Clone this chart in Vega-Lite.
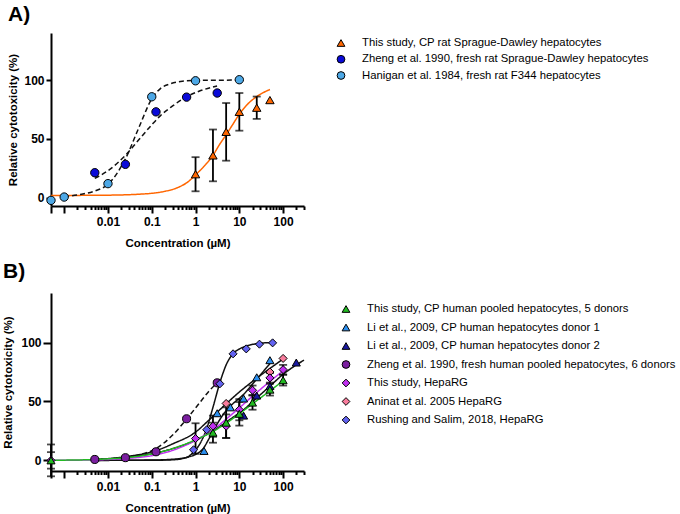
{
  "$schema": "https://vega.github.io/schema/vega-lite/v6.json",
  "padding": {"left": 2, "top": 4, "right": 0, "bottom": 0},
  "background": "white",
  "config": {
    "font": "Liberation Sans",
    "view": {"stroke": null},
    "axis": {"domainColor": "black", "domainWidth": 2, "tickColor": "black", "tickWidth": 2, "labelColor": "black", "labelFont": "Liberation Sans", "labelFontSize": 12, "labelFontWeight": "bold", "titleColor": "black", "titleFont": "Liberation Sans", "titleFontSize": 11.5, "titleFontWeight": "bold", "grid": false},
    "title": {"font": "Liberation Sans", "fontSize": 21, "fontWeight": "bold", "anchor": "start", "frame": "bounds", "color": "black"}
  },
  "datasets": {
    "legA": [
      {"s": "This study, CP rat Sprague-Dawley hepatocytes"},
      {"s": "Zheng et al. 1990, fresh rat Sprague-Dawley hepatocytes"},
      {"s": "Hanigan et al. 1984, fresh rat F344 hepatocytes"}
    ],
    "legB": [
      {"s": "This study, CP human pooled hepatocytes, 5 donors"},
      {"s": "Li et al., 2009, CP human hepatocytes donor 1"},
      {"s": "Li et al., 2009, CP human hepatocytes donor 2"},
      {"s": "Zheng et al. 1990, fresh human pooled hepatocytes, 6 donors"},
      {"s": "This study, HepaRG"},
      {"s": "Aninat et al. 2005 HepaRG"},
      {"s": "Rushing and Salim, 2018, HepaRG"}
    ],
    "ptsA": [
      {"s": "Hanigan et al. 1984, fresh rat F344 hepatocytes", "conc": 0, "y": -2.2},
      {"s": "Hanigan et al. 1984, fresh rat F344 hepatocytes", "conc": 0.001, "y": 0.6},
      {"s": "Hanigan et al. 1984, fresh rat F344 hepatocytes", "conc": 0.01, "y": 12},
      {"s": "Hanigan et al. 1984, fresh rat F344 hepatocytes", "conc": 0.1, "y": 85.8},
      {"s": "Hanigan et al. 1984, fresh rat F344 hepatocytes", "conc": 1, "y": 99.4},
      {"s": "Hanigan et al. 1984, fresh rat F344 hepatocytes", "conc": 10, "y": 100.3},
      {"s": "Zheng et al. 1990, fresh rat Sprague-Dawley hepatocytes", "conc": 0.005, "y": 21.3},
      {"s": "Zheng et al. 1990, fresh rat Sprague-Dawley hepatocytes", "conc": 0.025, "y": 28.4},
      {"s": "Zheng et al. 1990, fresh rat Sprague-Dawley hepatocytes", "conc": 0.125, "y": 73},
      {"s": "Zheng et al. 1990, fresh rat Sprague-Dawley hepatocytes", "conc": 0.625, "y": 85.5},
      {"s": "Zheng et al. 1990, fresh rat Sprague-Dawley hepatocytes", "conc": 3.125, "y": 89},
      {"s": "This study, CP rat Sprague-Dawley hepatocytes", "conc": 1, "y": 20, "err": 14.5},
      {"s": "This study, CP rat Sprague-Dawley hepatocytes", "conc": 2.5, "y": 36, "err": 22},
      {"s": "This study, CP rat Sprague-Dawley hepatocytes", "conc": 5, "y": 56, "err": 24.5},
      {"s": "This study, CP rat Sprague-Dawley hepatocytes", "conc": 10, "y": 73, "err": 16},
      {"s": "This study, CP rat Sprague-Dawley hepatocytes", "conc": 25, "y": 76.5, "err": 9.5},
      {"s": "This study, CP rat Sprague-Dawley hepatocytes", "conc": 50, "y": 83}
    ],
    "curvesA": [
      {"s": "This study, CP rat Sprague-Dawley hepatocytes", "conc": 0, "y": 2},
      {"s": "This study, CP rat Sprague-Dawley hepatocytes", "conc": 0.001, "y": 2},
      {"s": "This study, CP rat Sprague-Dawley hepatocytes", "conc": 0.01, "y": 2.2},
      {"s": "This study, CP rat Sprague-Dawley hepatocytes", "conc": 0.05, "y": 3},
      {"s": "This study, CP rat Sprague-Dawley hepatocytes", "conc": 0.1, "y": 3.8},
      {"s": "This study, CP rat Sprague-Dawley hepatocytes", "conc": 0.2, "y": 5.5},
      {"s": "This study, CP rat Sprague-Dawley hepatocytes", "conc": 0.4, "y": 8.8},
      {"s": "This study, CP rat Sprague-Dawley hepatocytes", "conc": 0.7, "y": 14},
      {"s": "This study, CP rat Sprague-Dawley hepatocytes", "conc": 1, "y": 19.5},
      {"s": "This study, CP rat Sprague-Dawley hepatocytes", "conc": 1.5, "y": 26},
      {"s": "This study, CP rat Sprague-Dawley hepatocytes", "conc": 2.5, "y": 36},
      {"s": "This study, CP rat Sprague-Dawley hepatocytes", "conc": 3.5, "y": 45},
      {"s": "This study, CP rat Sprague-Dawley hepatocytes", "conc": 5, "y": 53.5},
      {"s": "This study, CP rat Sprague-Dawley hepatocytes", "conc": 7, "y": 62},
      {"s": "This study, CP rat Sprague-Dawley hepatocytes", "conc": 10, "y": 71},
      {"s": "This study, CP rat Sprague-Dawley hepatocytes", "conc": 15, "y": 79},
      {"s": "This study, CP rat Sprague-Dawley hepatocytes", "conc": 25, "y": 86},
      {"s": "This study, CP rat Sprague-Dawley hepatocytes", "conc": 50, "y": 92},
      {"s": "Zheng et al. 1990, fresh rat Sprague-Dawley hepatocytes", "conc": 0.005, "y": 16.5},
      {"s": "Zheng et al. 1990, fresh rat Sprague-Dawley hepatocytes", "conc": 0.01, "y": 23},
      {"s": "Zheng et al. 1990, fresh rat Sprague-Dawley hepatocytes", "conc": 0.025, "y": 36},
      {"s": "Zheng et al. 1990, fresh rat Sprague-Dawley hepatocytes", "conc": 0.05, "y": 49},
      {"s": "Zheng et al. 1990, fresh rat Sprague-Dawley hepatocytes", "conc": 0.1, "y": 62},
      {"s": "Zheng et al. 1990, fresh rat Sprague-Dawley hepatocytes", "conc": 0.16, "y": 70},
      {"s": "Zheng et al. 1990, fresh rat Sprague-Dawley hepatocytes", "conc": 0.3, "y": 78},
      {"s": "Zheng et al. 1990, fresh rat Sprague-Dawley hepatocytes", "conc": 0.6, "y": 85.5},
      {"s": "Zheng et al. 1990, fresh rat Sprague-Dawley hepatocytes", "conc": 1.2, "y": 90.5},
      {"s": "Zheng et al. 1990, fresh rat Sprague-Dawley hepatocytes", "conc": 3.1, "y": 95},
      {"s": "Hanigan et al. 1984, fresh rat F344 hepatocytes", "conc": 0.001, "y": 0.9},
      {"s": "Hanigan et al. 1984, fresh rat F344 hepatocytes", "conc": 0.0025, "y": 3},
      {"s": "Hanigan et al. 1984, fresh rat F344 hepatocytes", "conc": 0.005, "y": 5.7},
      {"s": "Hanigan et al. 1984, fresh rat F344 hepatocytes", "conc": 0.01, "y": 11.5},
      {"s": "Hanigan et al. 1984, fresh rat F344 hepatocytes", "conc": 0.025, "y": 33},
      {"s": "Hanigan et al. 1984, fresh rat F344 hepatocytes", "conc": 0.05, "y": 59},
      {"s": "Hanigan et al. 1984, fresh rat F344 hepatocytes", "conc": 0.1, "y": 84},
      {"s": "Hanigan et al. 1984, fresh rat F344 hepatocytes", "conc": 0.16, "y": 93},
      {"s": "Hanigan et al. 1984, fresh rat F344 hepatocytes", "conc": 0.25, "y": 96.5},
      {"s": "Hanigan et al. 1984, fresh rat F344 hepatocytes", "conc": 0.5, "y": 99},
      {"s": "Hanigan et al. 1984, fresh rat F344 hepatocytes", "conc": 1, "y": 99.7},
      {"s": "Hanigan et al. 1984, fresh rat F344 hepatocytes", "conc": 10, "y": 100}
    ],
    "ptsB": [
      {"s": "This study, HepaRG", "conc": 0, "y": 0, "err": 7},
      {"s": "This study, CP human pooled hepatocytes, 5 donors", "conc": 0, "y": 0, "err": 13.5},
      {"s": "Zheng et al. 1990, fresh human pooled hepatocytes, 6 donors", "conc": 0.005, "y": 0.8},
      {"s": "Zheng et al. 1990, fresh human pooled hepatocytes, 6 donors", "conc": 0.025, "y": 2.3},
      {"s": "Zheng et al. 1990, fresh human pooled hepatocytes, 6 donors", "conc": 0.125, "y": 7.3},
      {"s": "Zheng et al. 1990, fresh human pooled hepatocytes, 6 donors", "conc": 0.625, "y": 35.3},
      {"s": "Zheng et al. 1990, fresh human pooled hepatocytes, 6 donors", "conc": 3.125, "y": 65.8},
      {"s": "Rushing and Salim, 2018, HepaRG", "conc": 0.9, "y": 9},
      {"s": "Rushing and Salim, 2018, HepaRG", "conc": 1.8, "y": 26},
      {"s": "Rushing and Salim, 2018, HepaRG", "conc": 3.6, "y": 65},
      {"s": "Rushing and Salim, 2018, HepaRG", "conc": 7.2, "y": 90.4},
      {"s": "Rushing and Salim, 2018, HepaRG", "conc": 14.4, "y": 94.6},
      {"s": "Rushing and Salim, 2018, HepaRG", "conc": 28.8, "y": 98.6},
      {"s": "Rushing and Salim, 2018, HepaRG", "conc": 57.6, "y": 99.7},
      {"s": "Li et al., 2009, CP human hepatocytes donor 1", "conc": 1.5625, "y": 8},
      {"s": "Li et al., 2009, CP human hepatocytes donor 1", "conc": 3.125, "y": 40},
      {"s": "Li et al., 2009, CP human hepatocytes donor 1", "conc": 6.25, "y": 45},
      {"s": "Li et al., 2009, CP human hepatocytes donor 1", "conc": 12.5, "y": 52.5},
      {"s": "Li et al., 2009, CP human hepatocytes donor 1", "conc": 25, "y": 70.5},
      {"s": "Li et al., 2009, CP human hepatocytes donor 1", "conc": 50, "y": 85},
      {"s": "Li et al., 2009, CP human hepatocytes donor 2", "conc": 12.5, "y": 38},
      {"s": "Li et al., 2009, CP human hepatocytes donor 2", "conc": 25, "y": 55},
      {"s": "Li et al., 2009, CP human hepatocytes donor 2", "conc": 50, "y": 63},
      {"s": "Li et al., 2009, CP human hepatocytes donor 2", "conc": 200, "y": 83},
      {"s": "Aninat et al. 2005 HepaRG", "conc": 5, "y": 48.3},
      {"s": "Aninat et al. 2005 HepaRG", "conc": 50, "y": 75},
      {"s": "Aninat et al. 2005 HepaRG", "conc": 100, "y": 86.5},
      {"s": "This study, HepaRG", "conc": 1, "y": 18.5, "err": 13},
      {"s": "This study, HepaRG", "conc": 2.5, "y": 29, "err": 9},
      {"s": "This study, HepaRG", "conc": 5, "y": 29, "err": 10},
      {"s": "This study, HepaRG", "conc": 10, "y": 43, "err": 9},
      {"s": "This study, HepaRG", "conc": 20, "y": 59.5, "err": 4},
      {"s": "This study, HepaRG", "conc": 50, "y": 70, "err": 4},
      {"s": "This study, HepaRG", "conc": 100, "y": 77, "err": 4},
      {"s": "This study, CP human pooled hepatocytes, 5 donors", "conc": 2.5, "y": 23.5, "err": 8.5},
      {"s": "This study, CP human pooled hepatocytes, 5 donors", "conc": 5, "y": 32, "err": 13},
      {"s": "This study, CP human pooled hepatocytes, 5 donors", "conc": 10, "y": 39.5, "err": 10},
      {"s": "This study, CP human pooled hepatocytes, 5 donors", "conc": 20, "y": 49, "err": 6},
      {"s": "This study, CP human pooled hepatocytes, 5 donors", "conc": 50, "y": 60, "err": 5},
      {"s": "This study, CP human pooled hepatocytes, 5 donors", "conc": 100, "y": 68, "err": 4.5}
    ],
    "curvesB": [
      {"s": "Rushing and Salim, 2018, HepaRG", "conc": 0.005, "y": 0},
      {"s": "Rushing and Salim, 2018, HepaRG", "conc": 0.1, "y": 0.1},
      {"s": "Rushing and Salim, 2018, HepaRG", "conc": 0.3, "y": 0.5},
      {"s": "Rushing and Salim, 2018, HepaRG", "conc": 0.5, "y": 1.5},
      {"s": "Rushing and Salim, 2018, HepaRG", "conc": 0.7, "y": 3.5},
      {"s": "Rushing and Salim, 2018, HepaRG", "conc": 0.9, "y": 7},
      {"s": "Rushing and Salim, 2018, HepaRG", "conc": 1.3, "y": 15},
      {"s": "Rushing and Salim, 2018, HepaRG", "conc": 1.8, "y": 27},
      {"s": "Rushing and Salim, 2018, HepaRG", "conc": 2.5, "y": 45},
      {"s": "Rushing and Salim, 2018, HepaRG", "conc": 3.6, "y": 66},
      {"s": "Rushing and Salim, 2018, HepaRG", "conc": 5, "y": 81},
      {"s": "Rushing and Salim, 2018, HepaRG", "conc": 7.2, "y": 90.5},
      {"s": "Rushing and Salim, 2018, HepaRG", "conc": 10, "y": 94.5},
      {"s": "Rushing and Salim, 2018, HepaRG", "conc": 14.4, "y": 97},
      {"s": "Rushing and Salim, 2018, HepaRG", "conc": 28.8, "y": 99.3},
      {"s": "Rushing and Salim, 2018, HepaRG", "conc": 57.6, "y": 100},
      {"s": "Li et al., 2009, CP human hepatocytes donor 1", "conc": 0.005, "y": 0},
      {"s": "Li et al., 2009, CP human hepatocytes donor 1", "conc": 0.1, "y": 0.3},
      {"s": "Li et al., 2009, CP human hepatocytes donor 1", "conc": 0.3, "y": 1},
      {"s": "Li et al., 2009, CP human hepatocytes donor 1", "conc": 0.7, "y": 3},
      {"s": "Li et al., 2009, CP human hepatocytes donor 1", "conc": 1, "y": 5},
      {"s": "Li et al., 2009, CP human hepatocytes donor 1", "conc": 1.56, "y": 11},
      {"s": "Li et al., 2009, CP human hepatocytes donor 1", "conc": 2, "y": 18},
      {"s": "Li et al., 2009, CP human hepatocytes donor 1", "conc": 3.125, "y": 31},
      {"s": "Li et al., 2009, CP human hepatocytes donor 1", "conc": 4.5, "y": 40},
      {"s": "Li et al., 2009, CP human hepatocytes donor 1", "conc": 6.25, "y": 46},
      {"s": "Li et al., 2009, CP human hepatocytes donor 1", "conc": 12.5, "y": 56},
      {"s": "Li et al., 2009, CP human hepatocytes donor 1", "conc": 25, "y": 69},
      {"s": "Li et al., 2009, CP human hepatocytes donor 1", "conc": 50, "y": 82},
      {"s": "Li et al., 2009, CP human hepatocytes donor 2", "conc": 0.005, "y": 0.6},
      {"s": "Li et al., 2009, CP human hepatocytes donor 2", "conc": 0.01, "y": 1.2},
      {"s": "Li et al., 2009, CP human hepatocytes donor 2", "conc": 0.03, "y": 2.8},
      {"s": "Li et al., 2009, CP human hepatocytes donor 2", "conc": 0.13, "y": 6.5},
      {"s": "Li et al., 2009, CP human hepatocytes donor 2", "conc": 0.3, "y": 10},
      {"s": "Li et al., 2009, CP human hepatocytes donor 2", "conc": 1, "y": 17},
      {"s": "Li et al., 2009, CP human hepatocytes donor 2", "conc": 3, "y": 27},
      {"s": "Li et al., 2009, CP human hepatocytes donor 2", "conc": 6.25, "y": 35},
      {"s": "Li et al., 2009, CP human hepatocytes donor 2", "conc": 12.5, "y": 43},
      {"s": "Li et al., 2009, CP human hepatocytes donor 2", "conc": 25, "y": 53},
      {"s": "Li et al., 2009, CP human hepatocytes donor 2", "conc": 50, "y": 63},
      {"s": "Li et al., 2009, CP human hepatocytes donor 2", "conc": 100, "y": 73},
      {"s": "Li et al., 2009, CP human hepatocytes donor 2", "conc": 200, "y": 81},
      {"s": "Li et al., 2009, CP human hepatocytes donor 2", "conc": 300, "y": 85},
      {"s": "Aninat et al. 2005 HepaRG", "conc": 0.005, "y": 0.8},
      {"s": "Aninat et al. 2005 HepaRG", "conc": 0.01, "y": 1.5},
      {"s": "Aninat et al. 2005 HepaRG", "conc": 0.03, "y": 3.5},
      {"s": "Aninat et al. 2005 HepaRG", "conc": 0.13, "y": 8.5},
      {"s": "Aninat et al. 2005 HepaRG", "conc": 0.3, "y": 14},
      {"s": "Aninat et al. 2005 HepaRG", "conc": 1, "y": 24},
      {"s": "Aninat et al. 2005 HepaRG", "conc": 2, "y": 34},
      {"s": "Aninat et al. 2005 HepaRG", "conc": 5, "y": 48},
      {"s": "Aninat et al. 2005 HepaRG", "conc": 10, "y": 58},
      {"s": "Aninat et al. 2005 HepaRG", "conc": 20, "y": 67},
      {"s": "Aninat et al. 2005 HepaRG", "conc": 50, "y": 78},
      {"s": "Aninat et al. 2005 HepaRG", "conc": 100, "y": 86},
      {"s": "Zheng et al. 1990, fresh human pooled hepatocytes, 6 donors", "conc": 0.005, "y": 0.5},
      {"s": "Zheng et al. 1990, fresh human pooled hepatocytes, 6 donors", "conc": 0.01, "y": 1.2},
      {"s": "Zheng et al. 1990, fresh human pooled hepatocytes, 6 donors", "conc": 0.025, "y": 2.6},
      {"s": "Zheng et al. 1990, fresh human pooled hepatocytes, 6 donors", "conc": 0.05, "y": 4.6},
      {"s": "Zheng et al. 1990, fresh human pooled hepatocytes, 6 donors", "conc": 0.125, "y": 10},
      {"s": "Zheng et al. 1990, fresh human pooled hepatocytes, 6 donors", "conc": 0.3, "y": 21.5},
      {"s": "Zheng et al. 1990, fresh human pooled hepatocytes, 6 donors", "conc": 0.625, "y": 35},
      {"s": "Zheng et al. 1990, fresh human pooled hepatocytes, 6 donors", "conc": 1.25, "y": 49},
      {"s": "Zheng et al. 1990, fresh human pooled hepatocytes, 6 donors", "conc": 2, "y": 58.5},
      {"s": "Zheng et al. 1990, fresh human pooled hepatocytes, 6 donors", "conc": 3.125, "y": 66},
      {"s": "This study, HepaRG", "conc": 0, "y": 0},
      {"s": "This study, HepaRG", "conc": 0.001, "y": 0.1},
      {"s": "This study, HepaRG", "conc": 0.003, "y": 0.3},
      {"s": "This study, HepaRG", "conc": 0.01, "y": 0.8},
      {"s": "This study, HepaRG", "conc": 0.03, "y": 1.8},
      {"s": "This study, HepaRG", "conc": 0.1, "y": 4},
      {"s": "This study, HepaRG", "conc": 0.3, "y": 8.5},
      {"s": "This study, HepaRG", "conc": 1, "y": 17},
      {"s": "This study, HepaRG", "conc": 2.5, "y": 26},
      {"s": "This study, HepaRG", "conc": 5, "y": 35},
      {"s": "This study, HepaRG", "conc": 10, "y": 44.5},
      {"s": "This study, HepaRG", "conc": 20, "y": 54.5},
      {"s": "This study, HepaRG", "conc": 50, "y": 67},
      {"s": "This study, HepaRG", "conc": 100, "y": 76},
      {"s": "This study, CP human pooled hepatocytes, 5 donors", "conc": 0, "y": 0},
      {"s": "This study, CP human pooled hepatocytes, 5 donors", "conc": 0.001, "y": 0.2},
      {"s": "This study, CP human pooled hepatocytes, 5 donors", "conc": 0.003, "y": 0.5},
      {"s": "This study, CP human pooled hepatocytes, 5 donors", "conc": 0.01, "y": 1.3},
      {"s": "This study, CP human pooled hepatocytes, 5 donors", "conc": 0.03, "y": 2.5},
      {"s": "This study, CP human pooled hepatocytes, 5 donors", "conc": 0.1, "y": 5.5},
      {"s": "This study, CP human pooled hepatocytes, 5 donors", "conc": 0.3, "y": 10},
      {"s": "This study, CP human pooled hepatocytes, 5 donors", "conc": 1, "y": 17.5},
      {"s": "This study, CP human pooled hepatocytes, 5 donors", "conc": 2.5, "y": 24.5},
      {"s": "This study, CP human pooled hepatocytes, 5 donors", "conc": 5, "y": 31.5},
      {"s": "This study, CP human pooled hepatocytes, 5 donors", "conc": 10, "y": 39.5},
      {"s": "This study, CP human pooled hepatocytes, 5 donors", "conc": 20, "y": 48},
      {"s": "This study, CP human pooled hepatocytes, 5 donors", "conc": 50, "y": 59},
      {"s": "This study, CP human pooled hepatocytes, 5 donors", "conc": 100, "y": 67.5}
    ]
  },
  "spacing": 12,
  "align": "none",
  "resolve": {"scale": {"fill": "independent", "shape": "independent", "stroke": "independent", "strokeDash": "independent"}},
  "vconcat": [
    {
      "spacing": 30,
      "hconcat": [
        {
          "title": {"text": "A)", "offset": 8},
          "width": 253,
          "height": 173,
          "layer": [
            {
              "mark": {"type": "rule", "strokeDash": [1.5, 2], "color": "#444444", "strokeWidth": 1},
              "encoding": {"y": {"datum": 0, "type": "quantitative", "scale": {"domain": [-7, 140], "nice": false, "zero": false}, "title": "Relative cytotoxicity  (%)"}}
            },
            {
              "data": {"name": "curvesA"},
              "transform": [{"calculate": "datum.conc == 0 ? 0.0005 : datum.conc", "as": "cx"}],
              "mark": {"type": "line", "interpolate": "monotone", "strokeWidth": 1.5},
              "encoding": {
                "x": {"field": "cx", "type": "quantitative", "scale": {"type": "log", "domain": [0.0005, 300], "nice": false}, "title": "Concentration (µM)",
                  "axis": {"values": [0.0005, 0.001, 0.002, 0.003, 0.004, 0.005, 0.006, 0.007, 0.008, 0.009, 0.01, 0.02, 0.03, 0.04, 0.05, 0.06, 0.07, 0.08, 0.09, 0.1, 0.2, 0.3, 0.4, 0.5, 0.6, 0.7, 0.8, 0.9, 1, 2, 3, 4, 5, 6, 7, 8, 9, 10, 20, 30, 40, 50, 60, 70, 80, 90, 100, 200, 300],
                    "format": "~g", "labelExpr": "(datum.value == 0.01 || datum.value == 0.1 || datum.value == 1 || datum.value == 10 || datum.value == 100) ? datum.label : ''",
                    "tickSize": {"condition": {"test": "datum.value == 0.0005 || datum.value == 0.001 || datum.value == 0.01 || datum.value == 0.1 || datum.value == 1 || datum.value == 10 || datum.value == 100", "value": 7}, "value": 3.5},
                    "labelOverlap": false, "labelFlush": false, "labelPadding": 3, "titlePadding": 10}},
                "y": {"field": "y", "type": "quantitative", "scale": {"domain": [-7, 140], "nice": false, "zero": false}, "title": "Relative cytotoxicity  (%)",
                  "axis": {"values": [0, 50, 100], "tickSize": 5, "labelPadding": 2, "titlePadding": 5}},
                "detail": {"field": "s"},
                "stroke": {"field": "s", "legend": null, "scale": {"domain": ["This study, CP rat Sprague-Dawley hepatocytes", "Zheng et al. 1990, fresh rat Sprague-Dawley hepatocytes", "Hanigan et al. 1984, fresh rat F344 hepatocytes"], "range": ["#ff6600", "#111111", "#111111"]}},
                "strokeDash": {"field": "s", "legend": null, "scale": {"domain": ["This study, CP rat Sprague-Dawley hepatocytes", "Zheng et al. 1990, fresh rat Sprague-Dawley hepatocytes", "Hanigan et al. 1984, fresh rat F344 hepatocytes"], "range": [[1, 0], [5, 3], [5, 3]]}}
              }
            },
            {
              "data": {"name": "ptsA"},
              "transform": [{"filter": "isValid(datum.err)"}, {"calculate": "datum.conc == 0 ? 0.0005 : datum.conc", "as": "cx"}],
              "mark": {"type": "errorbar", "ticks": {"size": 8}, "color": "black", "thickness": 1.8},
              "encoding": {
                "x": {"field": "cx", "type": "quantitative", "scale": {"type": "log", "domain": [0.0005, 300], "nice": false}, "title": "Concentration (µM)"},
                "y": {"field": "y", "type": "quantitative", "scale": {"domain": [-7, 140], "nice": false, "zero": false}, "title": "Relative cytotoxicity  (%)"},
                "yError": {"field": "err"}
              }
            },
            {
              "data": {"name": "ptsA"},
              "transform": [{"calculate": "datum.conc == 0 ? 0.0005 : datum.conc", "as": "cx"}],
              "mark": {"type": "point", "filled": true, "stroke": "black", "strokeWidth": 1, "size": 70, "opacity": 1, "clip": false},
              "encoding": {
                "x": {"field": "cx", "type": "quantitative", "scale": {"type": "log", "domain": [0.0005, 300], "nice": false}, "title": "Concentration (µM)"},
                "y": {"field": "y", "type": "quantitative", "scale": {"domain": [-7, 140], "nice": false, "zero": false}, "title": "Relative cytotoxicity  (%)"},
                "fill": {"field": "s", "type": "nominal", "legend": null, "scale": {"domain": ["This study, CP rat Sprague-Dawley hepatocytes", "Zheng et al. 1990, fresh rat Sprague-Dawley hepatocytes", "Hanigan et al. 1984, fresh rat F344 hepatocytes"], "range": ["#ff6600", "#0a0ad8", "#4da8e6"]}},
                "shape": {"field": "s", "type": "nominal", "legend": null, "scale": {"domain": ["This study, CP rat Sprague-Dawley hepatocytes", "Zheng et al. 1990, fresh rat Sprague-Dawley hepatocytes", "Hanigan et al. 1984, fresh rat F344 hepatocytes"], "range": ["triangle-up", "circle", "circle"]}}
              }
            }
          ]
        },
        {
          "width": 320,
          "height": 173,
          "data": {"name": "legA"},
          "layer": [
            {
              "mark": {"type": "point", "filled": true, "stroke": "black", "strokeWidth": 1, "size": 60, "opacity": 1},
              "encoding": {
                "x": {"datum": 0, "type": "quantitative", "scale": {"domain": [0, 1]}, "axis": null},
                "y": {"field": "s", "type": "nominal", "sort": null, "scale": {"type": "point", "range": [10, 42.5], "padding": 0}, "axis": null},
                "fill": {"field": "s", "type": "nominal", "legend": null},
                "shape": {"field": "s", "type": "nominal", "legend": null}
              }
            },
            {
              "mark": {"type": "text", "align": "left", "baseline": "middle", "dx": 21, "fontSize": 11.3, "font": "Liberation Sans", "color": "black"},
              "encoding": {
                "x": {"datum": 0, "type": "quantitative", "scale": {"domain": [0, 1]}, "axis": null},
                "y": {"field": "s", "type": "nominal", "sort": null, "scale": {"type": "point", "range": [10, 42.5], "padding": 0}, "axis": null},
                "text": {"field": "s"}
              }
            }
          ]
        }
      ]
    },
    {
      "spacing": 33,
      "hconcat": [
        {
          "title": {"text": "B)", "offset": 11},
          "width": 253,
          "height": 178,
          "layer": [
            {
              "mark": {"type": "rule", "strokeDash": [1.5, 2], "color": "#444444", "strokeWidth": 1},
              "encoding": {"y": {"datum": 0, "type": "quantitative", "scale": {"domain": [-9, 142], "nice": false, "zero": false}, "title": "Relative cytotoxicity  (%)"}}
            },
            {
              "data": {"name": "curvesB"},
              "transform": [{"calculate": "datum.conc == 0 ? 0.0005 : datum.conc", "as": "cx"}],
              "mark": {"type": "line", "interpolate": "monotone", "strokeWidth": 1.5},
              "encoding": {
                "x": {"field": "cx", "type": "quantitative", "scale": {"type": "log", "domain": [0.0005, 300], "nice": false}, "title": "Concentration (µM)",
                  "axis": {"values": [0.0005, 0.001, 0.002, 0.003, 0.004, 0.005, 0.006, 0.007, 0.008, 0.009, 0.01, 0.02, 0.03, 0.04, 0.05, 0.06, 0.07, 0.08, 0.09, 0.1, 0.2, 0.3, 0.4, 0.5, 0.6, 0.7, 0.8, 0.9, 1, 2, 3, 4, 5, 6, 7, 8, 9, 10, 20, 30, 40, 50, 60, 70, 80, 90, 100, 200, 300],
                    "format": "~g", "labelExpr": "(datum.value == 0.01 || datum.value == 0.1 || datum.value == 1 || datum.value == 10 || datum.value == 100) ? datum.label : ''",
                    "tickSize": {"condition": {"test": "datum.value == 0.0005 || datum.value == 0.001 || datum.value == 0.01 || datum.value == 0.1 || datum.value == 1 || datum.value == 10 || datum.value == 100", "value": 7}, "value": 3.5},
                    "labelOverlap": false, "labelFlush": false, "labelPadding": 3, "titlePadding": 10}},
                "y": {"field": "y", "type": "quantitative", "scale": {"domain": [-9, 142], "nice": false, "zero": false}, "title": "Relative cytotoxicity  (%)",
                  "axis": {"values": [0, 50, 100], "tickSize": 8, "labelPadding": 2, "titlePadding": 7}},
                "detail": {"field": "s"},
                "stroke": {"field": "s", "legend": null, "scale": {"domain": ["This study, CP human pooled hepatocytes, 5 donors", "Li et al., 2009, CP human hepatocytes donor 1", "Li et al., 2009, CP human hepatocytes donor 2", "Zheng et al. 1990, fresh human pooled hepatocytes, 6 donors", "This study, HepaRG", "Aninat et al. 2005 HepaRG", "Rushing and Salim, 2018, HepaRG"], "range": ["#22bb22", "#111111", "#111111", "#111111", "#c030f0", "#111111", "#111111"]}},
                "strokeDash": {"field": "s", "legend": null, "scale": {"domain": ["This study, CP human pooled hepatocytes, 5 donors", "Li et al., 2009, CP human hepatocytes donor 1", "Li et al., 2009, CP human hepatocytes donor 2", "Zheng et al. 1990, fresh human pooled hepatocytes, 6 donors", "This study, HepaRG", "Aninat et al. 2005 HepaRG", "Rushing and Salim, 2018, HepaRG"], "range": [[1, 0], [1, 0], [1, 0], [5, 3], [1, 0], [1, 0], [1, 0]]}}
              }
            },
            {
              "data": {"name": "ptsB"},
              "transform": [{"filter": "isValid(datum.err)"}, {"calculate": "datum.conc == 0 ? 0.0005 : datum.conc", "as": "cx"}],
              "mark": {"type": "errorbar", "ticks": {"size": 8}, "color": "black", "thickness": 1.8},
              "encoding": {
                "x": {"field": "cx", "type": "quantitative", "scale": {"type": "log", "domain": [0.0005, 300], "nice": false}, "title": "Concentration (µM)"},
                "y": {"field": "y", "type": "quantitative", "scale": {"domain": [-9, 142], "nice": false, "zero": false}, "title": "Relative cytotoxicity  (%)"},
                "yError": {"field": "err"}
              }
            },
            {
              "data": {"name": "ptsB"},
              "transform": [{"calculate": "datum.conc == 0 ? 0.0005 : datum.conc", "as": "cx"}],
              "mark": {"type": "point", "filled": true, "stroke": "black", "strokeWidth": 1, "size": 65, "opacity": 1, "clip": false},
              "encoding": {
                "x": {"field": "cx", "type": "quantitative", "scale": {"type": "log", "domain": [0.0005, 300], "nice": false}, "title": "Concentration (µM)"},
                "y": {"field": "y", "type": "quantitative", "scale": {"domain": [-9, 142], "nice": false, "zero": false}, "title": "Relative cytotoxicity  (%)"},
                "fill": {"field": "s", "type": "nominal", "legend": null, "scale": {"domain": ["This study, CP human pooled hepatocytes, 5 donors", "Li et al., 2009, CP human hepatocytes donor 1", "Li et al., 2009, CP human hepatocytes donor 2", "Zheng et al. 1990, fresh human pooled hepatocytes, 6 donors", "This study, HepaRG", "Aninat et al. 2005 HepaRG", "Rushing and Salim, 2018, HepaRG"], "range": ["#22bb22", "#2b8ff0", "#1a1aa0", "#7b1fa0", "#c030f0", "#f87c9c", "#6262f0"]}},
                "shape": {"field": "s", "type": "nominal", "legend": null, "scale": {"domain": ["This study, CP human pooled hepatocytes, 5 donors", "Li et al., 2009, CP human hepatocytes donor 1", "Li et al., 2009, CP human hepatocytes donor 2", "Zheng et al. 1990, fresh human pooled hepatocytes, 6 donors", "This study, HepaRG", "Aninat et al. 2005 HepaRG", "Rushing and Salim, 2018, HepaRG"], "range": ["triangle-up", "triangle-up", "triangle-up", "circle", "diamond", "diamond", "diamond"]}}
              }
            }
          ]
        },
        {
          "width": 320,
          "height": 178,
          "data": {"name": "legB"},
          "layer": [
            {
              "mark": {"type": "point", "filled": true, "stroke": "black", "strokeWidth": 1, "size": 60, "opacity": 1},
              "encoding": {
                "x": {"datum": 0, "type": "quantitative", "scale": {"domain": [0, 1]}, "axis": null},
                "y": {"field": "s", "type": "nominal", "sort": null, "scale": {"type": "point", "range": [16, 127], "padding": 0}, "axis": null},
                "fill": {"field": "s", "type": "nominal", "legend": null},
                "shape": {"field": "s", "type": "nominal", "legend": null}
              }
            },
            {
              "mark": {"type": "text", "align": "left", "baseline": "middle", "dx": 21, "fontSize": 11.3, "font": "Liberation Sans", "color": "black"},
              "encoding": {
                "x": {"datum": 0, "type": "quantitative", "scale": {"domain": [0, 1]}, "axis": null},
                "y": {"field": "s", "type": "nominal", "sort": null, "scale": {"type": "point", "range": [16, 127], "padding": 0}, "axis": null},
                "text": {"field": "s"}
              }
            }
          ]
        }
      ]
    }
  ]
}
